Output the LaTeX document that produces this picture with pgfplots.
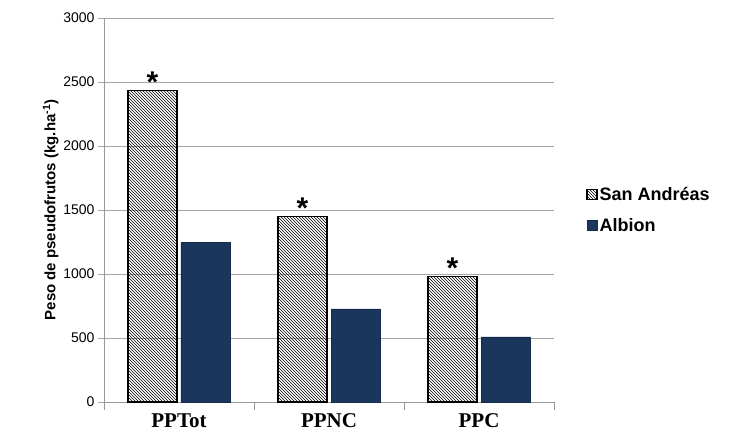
\documentclass[border=0pt]{standalone}
\usepackage{pgfplots}
\pgfplotsset{compat=1.18}
\usepackage{fontspec}
\setmainfont{Liberation Sans}
\newfontfamily\serifb{Liberation Serif}
\usetikzlibrary{patterns}
\definecolor{navy}{HTML}{1A365D}
\begin{document}
\begin{tikzpicture}
\useasboundingbox (-104pt,-44pt) rectangle (633pt,402pt);
\begin{axis}[
  scale only axis, width=450pt, height=384pt,
  xmin=-0.5, xmax=2.5, ymin=0, ymax=3000,
  ybar=4pt, bar width=49pt,
  xtick={0,1,2}, xticklabels={PPTot,PPNC,PPC},
  xticklabel style={font=\serifb\bfseries\fontsize{21}{23}\selectfont, yshift=-2pt},
  major x tick style={draw=none},
  minor xtick={-0.5,0.5,1.5,2.5},
  minor x tick style={gray!80, thick},
  xtick align=outside, minor tick length=8pt,
  ytick={0,500,...,3000}, ymajorgrids, grid style={gray!70},
  major y tick style={gray!70}, ytick align=outside, major tick length=6pt,
  yticklabel style={font=\fontsize{14}{16}\selectfont},
  /pgf/number format/assume math mode=true,
  /pgf/number format/1000 sep={},
  axis x line*=bottom, axis y line*=left,
  axis line style={gray!80},
  ylabel={\bfseries Peso de pseudofrutos (kg.ha\textsuperscript{-1})},
  ylabel style={font=\fontsize{15}{17}\selectfont, yshift=-2pt},
  legend style={at={(1.065,0.5)}, anchor=west, draw=none, font=\bfseries\fontsize{18}{20}\selectfont, row sep=12pt},
  legend cell align=left,
  legend image code/.code={\draw[#1] (0pt,-5pt) rectangle (10pt,5pt);},
  clip=false,
]
\addplot[draw=black, line width=1.2pt, pattern=north west lines, nodes near coords={\bfseries\fontsize{30}{30}\selectfont *}, every node near coord/.append style={anchor=south, yshift=-6pt}]
  coordinates {(0,2435) (1,1450) (2,980)};
\addplot[draw=navy!80!black, fill=navy] coordinates {(0,1245) (1,728) (2,509)};
\legend{San Andréas, Albion}
\end{axis}
\end{tikzpicture}
\end{document}
